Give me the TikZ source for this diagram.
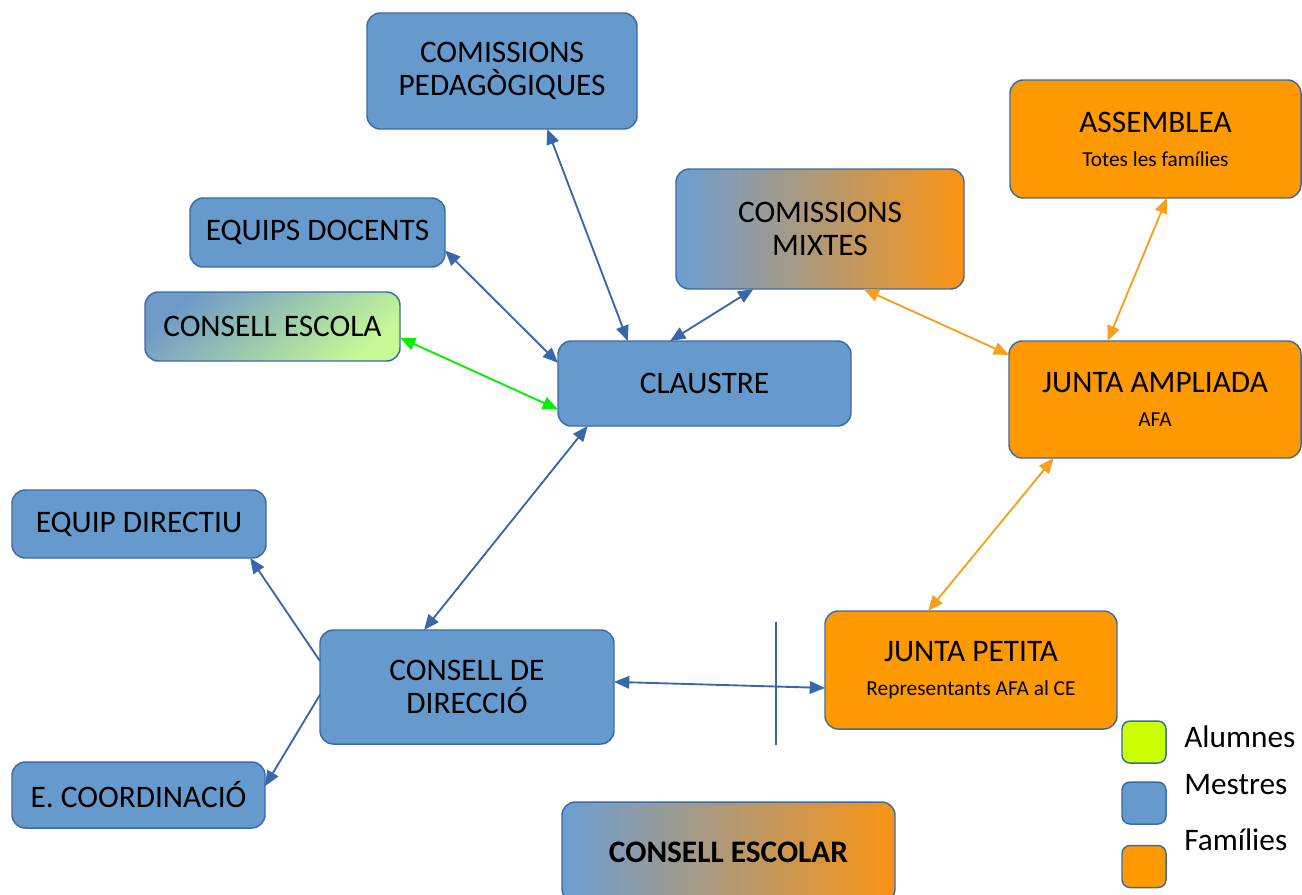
\documentclass[tikz,border=0pt]{standalone}
\usepackage{fontspec}
\setmainfont{Carlito}
\usepackage{tikz}
\usetikzlibrary{arrows.meta}

\definecolor{mestres}{RGB}{102,153,204}
\definecolor{families}{RGB}{255,153,0}
\definecolor{alumnes}{RGB}{204,255,0}
\definecolor{vora}{RGB}{58,107,168}
\definecolor{fblava}{RGB}{56,104,168}
\definecolor{ftaronja}{RGB}{247,160,30}
\definecolor{fverda}{RGB}{0,240,0}
\definecolor{blaugrad}{RGB}{108,158,212}
\definecolor{taronjagrad}{RGB}{250,147,18}
\definecolor{verdgrad}{RGB}{198,248,150}

\newcommand{\petit}[1]{\\[1pt]{\fontsize{16}{18}\selectfont #1}}

\begin{document}
\begin{tikzpicture}[x=0.75pt,y=0.75pt,yscale=-1,xscale=1,
  caixa/.style={rectangle, rounded corners=10pt, draw=vora, line width=1.1pt, align=center, inner sep=2pt, outer sep=0pt, font=\fontsize{23.5}{24.5}\selectfont},
  blava/.style={caixa, fill=mestres},
  taronja/.style={caixa, fill=families},
  mixta/.style={caixa, left color=blaugrad, right color=taronjagrad},
  llegenda/.style={rectangle, rounded corners=6pt, draw=vora, line width=1.1pt, minimum width=33pt, minimum height=31.5pt},
  etiqueta/.style={anchor=west, inner sep=0pt, font=\fontsize{23.5}{23.5}\selectfont},
  fletxa/.style={line width=1.4pt, {Triangle[length=11.5pt,width=9.5pt]}-{Triangle[length=11.5pt,width=9.5pt]}},
  fletxa1/.style={line width=1.4pt, -{Triangle[length=11.5pt,width=9.5pt]}}
]
\useasboundingbox (0,0) rectangle (1302,894);

%Rounded Rect: mestres
\node [blava, minimum width=202.5pt, minimum height=87pt] (compped) at (502,71) {COMISSIONS\\PEDAGÒGIQUES};
\node [blava, minimum width=191.25pt, minimum height=51.75pt] (equipsdoc) at (317.5,232.5) {EQUIPS DOCENTS};
\node [caixa, minimum width=191.25pt, minimum height=51.75pt, left color=blaugrad!85!gray, right color=verdgrad, shading angle=40] (conescola) at (272.5,326.5) {CONSELL ESCOLA};
\node [blava, minimum width=219.75pt, minimum height=63.75pt] (claustre) at (704.5,383.5) {CLAUSTRE};
\node [blava, minimum width=190.5pt, minimum height=51pt] (equipdir) at (139,524) {EQUIP DIRECTIU};
\node [blava, minimum width=220.5pt, minimum height=85.5pt] (condir) at (467,687) {CONSELL DE\\DIRECCIÓ};
\node [blava, minimum width=189.75pt, minimum height=49.5pt] (ecoord) at (138.5,795) {E. COORDINACIÓ};

%Rounded Rect: mixtes
\node [mixta, minimum width=216pt, minimum height=90pt] (commixtes) at (820,229) {COMISSIONS\\MIXTES};
\node [mixta, minimum width=249.75pt, minimum height=75pt, font=\fontsize{23.5}{23.5}\selectfont\bfseries] (conescolar) at (728.5,852) {CONSELL ESCOLAR};

%Rounded Rect: families
\node [taronja, minimum width=218.25pt, minimum height=88.5pt] (assemblea) at (1155.5,139) {ASSEMBLEA\petit{Totes les famílies}};
\node [taronja, minimum width=219pt, minimum height=87.75pt] (juntaamp) at (1155,399.5) {JUNTA AMPLIADA\petit{AFA}};
\node [taronja, minimum width=219pt, minimum height=88.5pt] (juntapet) at (971,670) {JUNTA PETITA\petit{Representants AFA al CE}};

%Straight Lines
\draw [fletxa, fblava] (compped.-52) -- (claustre.151);
\draw [fletxa, fblava] (equipsdoc.-8) -- (claustre.172);
\draw [fletxa, fverda] (conescola.-5) -- (claustre.190);
\draw [fletxa, fblava] (commixtes.222) -- (claustre.129);
\draw [fletxa, ftaronja] (commixtes.-54) -- (juntaamp.163);
\draw [fletxa, ftaronja] (assemblea.-79) -- (juntaamp.129);
\draw [fletxa, ftaronja] (juntaamp.210) -- (juntapet.126);
\draw [fletxa, fblava] (claustre.200) -- (condir.127);
\draw [fletxa1, fblava] (condir.170) -- (equipdir.-17);
\draw [fletxa1, fblava] (condir.183) -- (ecoord.4);
\draw [fletxa, fblava] (condir.2) -- (juntapet.187);
\draw [fblava, line width=1.1pt] (776,622) -- (776,745);

%Legend
\node [llegenda, fill=alumnes] (lalumnes) at (1144,742) {};
\node [llegenda, fill=mestres] (lmestres) at (1144,803) {};
\node [llegenda, fill=families] (lfamilies) at (1144,866.5) {};
\node [etiqueta] (talumnes) at (1184,737) {Alumnes};
\node [etiqueta] (tmestres) at (1184,785) {Mestres};
\node [etiqueta] (tfamilies) at (1184,840) {Famílies};

\end{tikzpicture}
\end{document}
